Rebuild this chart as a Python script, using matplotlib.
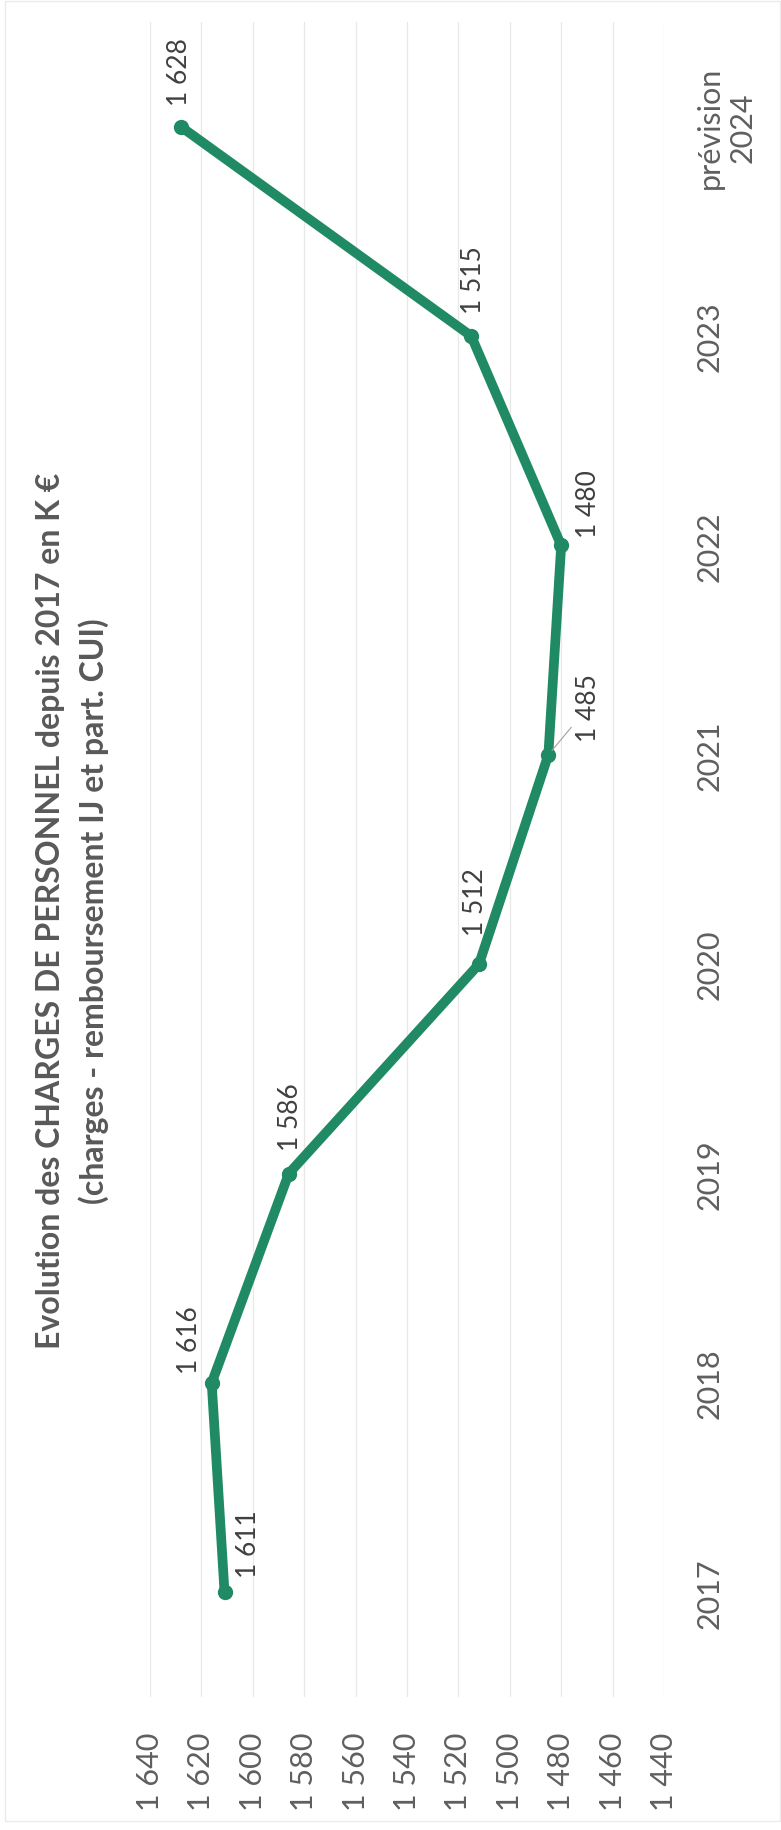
import matplotlib
matplotlib.use("Agg")
import matplotlib.pyplot as plt
from matplotlib.patches import Rectangle

plt.rcParams['font.family'] = ['Lato', 'DejaVu Sans']

# charges de personnel (K€)
years = ['2017', '2018', '2019', '2020', '2021', '2022', '2023', 'prévision\n2024']
charges = [1611, 1616, 1586, 1512, 1485, 1480, 1515, 1628]
value_ticks = [1440, 1460, 1480, 1500, 1520, 1540, 1560, 1580, 1600, 1620, 1640]

title_1 = 'Evolution des CHARGES DE PERSONNEL depuis 2017 en K €'
title_2 = '(charges - remboursement IJ et part. CUI)'

# where each value label sits relative to its point (pixels)
label_offsets = [(24, 49), (-22, 44), (2, 57), (-3, 63), (40, 48), (27, 42), (2, 57), (-1, 56)]

W, H = 781, 1831
fig = plt.figure(figsize=(W / 100, H / 100), dpi=100)
fig.patch.set_facecolor('white')

# the page is turned: values run along x (reversed), years run up the page
ax = fig.add_axes([150 / W, 1 - 1698 / H, (664 - 150) / W, (1698 - 23) / H])
pos = list(range(len(years)))
green = '#1f8a63'
ax.plot(charges, pos, color=green, lw=7, solid_capstyle='round',
        marker='o', ms=10, mfc=green, mec=green, zorder=3)

ax.set_xlim(1640, 1440)
ax.set_ylim(-0.5, len(years) - 0.5)
ax.set_xticks(value_ticks)
ax.set_xticklabels(['{:,}'.format(v).replace(',', ' ') for v in value_ticks],
                   rotation=90, fontsize=22, color='#5f5f5f')
ax.yaxis.tick_right()
ax.set_yticks(pos)
ax.set_yticklabels(years, fontsize=22, color='#5f5f5f')
for lab in ax.get_yticklabels():
    lab.set_rotation(90)
    lab.set_ha('left')
    lab.set_va('center')
    lab.set_multialignment('center')
ax.tick_params(axis='x', length=0, pad=25)
ax.tick_params(axis='y', length=0, pad=23)
ax.grid(axis='x', color='#e8e8e8', lw=0.9)
ax.set_axisbelow(True)
for s in ax.spines.values():
    s.set_visible(False)

for i, (v, off) in enumerate(zip(charges, label_offsets)):
    txt = '{:,}'.format(v).replace(',', ' ')
    kw = {}
    if i == 4:
        kw['arrowprops'] = dict(arrowstyle='-', color='#a0a0a0', lw=0.8, shrinkA=2, shrinkB=4)
    ax.annotate(txt, (v, i), xytext=off, textcoords='offset pixels',
                rotation=90, ha='center', va='center', fontsize=19,
                color='#404040', zorder=4, **kw)

# title, two lines
fig.text(60 / W, 1 - 911 / H, title_1, rotation=90, rotation_mode='anchor',
         ha='center', va='baseline', fontsize=23, fontweight='bold', color='#595959')
fig.text(104 / W, 1 - 911 / H, title_2, rotation=90, rotation_mode='anchor',
         ha='center', va='baseline', fontsize=23, fontweight='bold', color='#595959')

# chart area border
fig.patches.append(Rectangle((5 / W, 1 - 1822 / H), (780 - 5) / W, (1822 - 2) / H,
                             transform=fig.transFigure, fill=False,
                             edgecolor='#ebebeb', lw=1))

fig.savefig('out.png', dpi=100)
